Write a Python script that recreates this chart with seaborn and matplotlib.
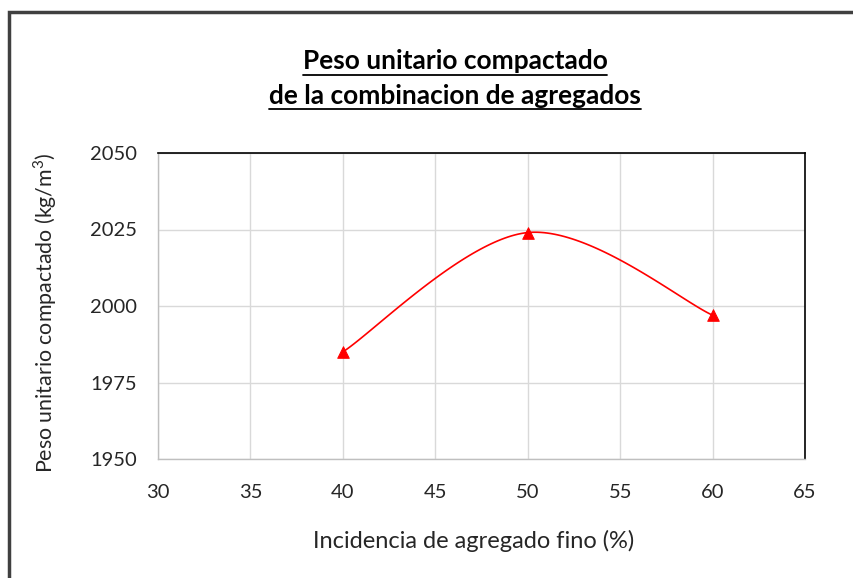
import numpy as np
import matplotlib
matplotlib.use("Agg")
import matplotlib.pyplot as plt
import seaborn as sns
from matplotlib.patches import Rectangle
from matplotlib.lines import Line2D

# Data
incidencia = [40, 50, 60]
peso = [1985, 2024, 1997]
x_ticks = [30, 35, 40, 45, 50, 55, 60, 65]
y_ticks = [1950, 1975, 2000, 2025, 2050]
title_lines = ["Peso unitario compactado", "de la combinacion de agregados"]
xlabel = "Incidencia de agregado fino (%)"
ylabel = "Peso unitario compactado (kg/m$^3$)"

sns.set_theme(style="white")
plt.rcParams['font.family'] = ['Lato', 'DejaVu Sans']
plt.rcParams['mathtext.fontset'] = 'custom'
plt.rcParams['mathtext.rm'] = 'Lato'

def excel_smooth(xs, ys, n=60):
    P = np.column_stack([xs, ys]).astype(float)
    ext = np.vstack([P[0], P, P[-1]])
    out = []
    for i in range(len(P) - 1):
        p0, p1, p2, p3 = ext[i], ext[i + 1], ext[i + 2], ext[i + 3]
        c1 = p1 + (p2 - p0) / 6.0
        c2 = p2 - (p3 - p1) / 6.0
        t = np.linspace(0, 1, n)[:, None]
        seg = ((1 - t) ** 3) * p1 + 3 * ((1 - t) ** 2) * t * c1 + 3 * (1 - t) * t ** 2 * c2 + t ** 3 * p2
        out.append(seg if i == 0 else seg[1:])
    return np.vstack(out)

W, H = 854, 578
fig = plt.figure(figsize=(W / 100, H / 100), dpi=100)
ax = fig.add_axes([158 / W, 1 - 459 / H, (805 - 158) / W, (459 - 153) / H])

curve = excel_smooth(incidencia, peso)
sns.lineplot(x=curve[:, 0], y=curve[:, 1], ax=ax, color="#ff0000", linewidth=1.2, sort=False, estimator=None)
sns.scatterplot(x=incidencia, y=peso, ax=ax, marker="^", color="#ff0000", s=70, edgecolor="#ff0000", zorder=5)

ax.set_xlim(30, 65)
ax.set_ylim(1950, 2050)
ax.set_xticks(x_ticks)
ax.set_yticks(y_ticks)
ax.set_xticklabels([str(v) for v in x_ticks], fontsize=14.5, color="#262626")
ax.set_yticklabels([str(v) for v in y_ticks], fontsize=14.5, color="#262626")
ax.tick_params(axis='y', length=0, pad=15)
ax.tick_params(axis='x', length=0, pad=18)
ax.grid(True, color="#d9d9d9", linewidth=1.0)
for s in ["left", "bottom"]:
    ax.spines[s].set_color("#bfbfbf")
    ax.spines[s].set_linewidth(1.0)
for s in ["top", "right"]:
    ax.spines[s].set_color("#000000")
    ax.spines[s].set_linewidth(1.2)
ax.set_xlabel("")
ax.set_ylabel("")

fig.text(474 / W, 1 - 541 / H, xlabel, ha="center", va="center", fontsize=17, color="#262626")
fig.text(45 / W, 1 - 313 / H, ylabel, ha="center", va="center", rotation=90, fontsize=15.4, color="#262626")

t1 = fig.text(455 / W, 1 - 61 / H, title_lines[0], ha="center", va="center", fontsize=18.9, fontweight="bold", color="#000000")
t2 = fig.text(455 / W, 1 - 96 / H, title_lines[1], ha="center", va="center", fontsize=18.9, fontweight="bold", color="#000000")

# outer border
fig.patches.append(Rectangle((8.5 / W, -0.1), 1.2, (1 - 11.5 / H) + 0.1, transform=fig.transFigure,
                             fill=False, edgecolor="#404040", linewidth=2.5))

fig.canvas.draw()
r = fig.canvas.get_renderer()
for t, yy in [(t1, 75), (t2, 109)]:
    bb = t.get_window_extent(renderer=r)
    fig.lines.append(Line2D([bb.x0 / W, bb.x1 / W], [1 - yy / H, 1 - yy / H], transform=fig.transFigure,
                            color="#000000", linewidth=1.3))

fig.savefig("out.png", dpi=100)
